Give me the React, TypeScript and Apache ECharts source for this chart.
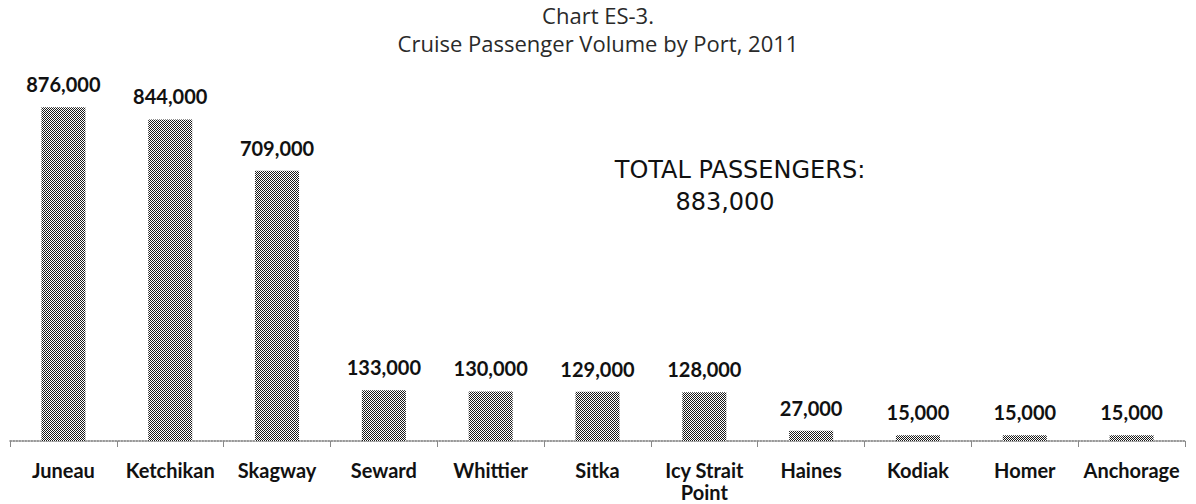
import React, { useEffect, useRef } from "react";
import * as echarts from "echarts";

const ports = ["Juneau", "Ketchikan", "Skagway", "Seward", "Whittier", "Sitka", "Icy Strait\nPoint", "Haines", "Kodiak", "Homer", "Anchorage"];
const passengers = [876000, 844000, 709000, 133000, 130000, 129000, 128000, 27000, 15000, 15000, 15000];
const titleLines = ["Chart ES-3.", "Cruise Passenger Volume by Port, 2011"];
const noteLines = ["TOTAL PASSENGERS:", "883,000"];

function makeChecker(): HTMLCanvasElement {
  const c = document.createElement("canvas");
  c.width = 2;
  c.height = 2;
  const ctx = c.getContext("2d")!;
  ctx.fillStyle = "#ffffff";
  ctx.fillRect(0, 0, 2, 2);
  ctx.fillStyle = "#1a1a1a";
  ctx.fillRect(0, 0, 1, 1);
  ctx.fillRect(1, 1, 1, 1);
  return c;
}

export default function App() {
  const ref = useRef<HTMLDivElement>(null);
  useEffect(() => {
    document.body.style.margin = "0";
    const chart = echarts.init(ref.current!, null, { renderer: "svg" });
    const font = "Lato, 'Open Sans', sans-serif";
    const noteFont = "normal 24px 'DejaVu Sans', sans-serif";
    const pattern: any = { image: makeChecker(), repeat: "repeat", imageWidth: 2, imageHeight: 2 };
    chart.setOption({
      animation: false,
      backgroundColor: "#ffffff",
      title: {
        text: titleLines.join("\n"),
        left: "center",
        top: 1,
        padding: 0,
        textStyle: { fontFamily: "'Open Sans', sans-serif", fontSize: 22, fontWeight: "normal", color: "#2a2a2a", lineHeight: 28 },
      },
      grid: { left: 10, right: 11, top: 60, bottom: 63, containLabel: false },
      xAxis: {
        type: "category",
        data: ports,
        boundaryGap: true,
        axisLine: { show: true, lineStyle: { color: "#777", type: "dotted", width: 1.5 } },
        axisTick: { show: true, alignWithLabel: false, length: 6, lineStyle: { color: "#888", width: 1 } },
        axisLabel: { interval: 0, margin: 18, color: "#111", fontFamily: font, fontWeight: "bold", fontSize: 20, lineHeight: 22 },
      },
      yAxis: { type: "value", min: 0, max: 1000000, show: false, splitLine: { show: false } },
      series: [
        {
          type: "bar",
          data: passengers,
          barWidth: 44,
          itemStyle: { color: pattern },
          label: {
            show: true,
            position: "top",
            distance: 13,
            color: "#111",
            fontFamily: font,
            fontWeight: "bold",
            fontSize: 20,
            formatter: (p: any) => Number(p.value).toLocaleString("en-US"),
          },
        },
      ],
      graphic: [
        {
          type: "text",
          x: 740,
          y: 158,
          style: { text: noteLines[0], align: "center", verticalAlign: "top", fill: "#111", font: noteFont },
        },
        {
          type: "text",
          x: 725,
          y: 190,
          style: { text: noteLines[1], align: "center", verticalAlign: "top", fill: "#111", font: noteFont },
        },
      ],
    });
    return () => chart.dispose();
  }, []);
  return <div ref={ref} style={{ width: 1196, height: 504 }} />;
}
